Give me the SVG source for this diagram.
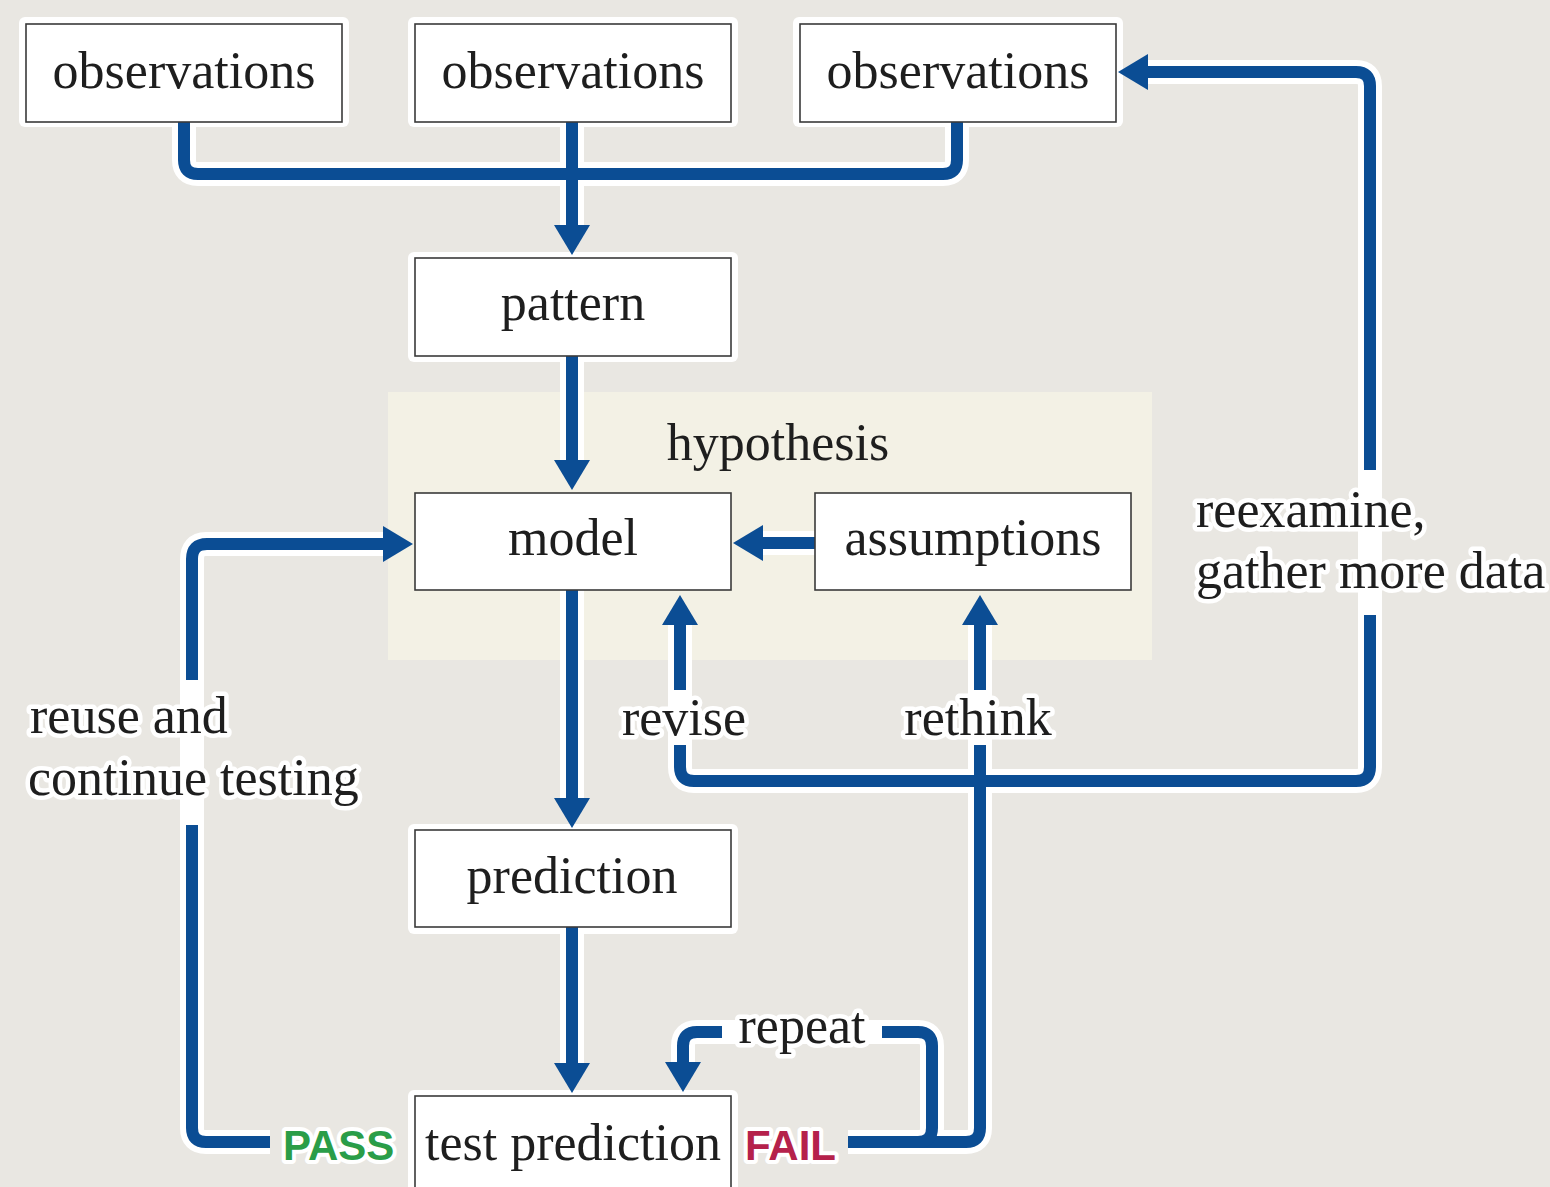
<svg xmlns="http://www.w3.org/2000/svg" width="1550" height="1187" viewBox="0 0 1550 1187">
<defs>
<style>
.box{fill:#fff;stroke:#3a3a3a;stroke-width:1.6}
.halo{fill:#fff;stroke:none}
.t{font-family:"Liberation Serif","Times New Roman",serif;font-size:52px;fill:#1e1e1e;text-anchor:middle}
.lbl{font-family:"Liberation Serif","Times New Roman",serif;font-size:52px;fill:#1e1e1e;paint-order:stroke;stroke:#fff;stroke-width:9;stroke-linejoin:round}
.c{fill:none;stroke:#0b4d94;stroke-width:12;stroke-linejoin:round}
.ch{fill:none;stroke:#fff;stroke-width:24;stroke-linejoin:round}
.pf{font-family:"Liberation Sans",Arial,sans-serif;font-weight:bold;font-size:42px;paint-order:stroke;stroke:#fff;stroke-width:8;stroke-linejoin:round}
</style>
<marker id="ah" markerUnits="userSpaceOnUse" viewBox="0 0 30 36" markerWidth="30" markerHeight="36" refX="10" refY="18" orient="auto">
<path d="M0,0 L30,18 L0,36 z" fill="#0b4d94"/>
</marker>
</defs>
<rect width="1550" height="1187" fill="#e9e7e2"/>
<g id="hypothesis">
<rect x="388" y="392" width="764" height="268" fill="#f3f1e5"/>
<text class="t" x="778" y="460">hypothesis</text>
</g>
<g id="halos">
<path class="ch" d="M184,122 V160 Q184,174 198,174 H943 Q957,174 957,160 V122 M572,122 V235"/>
<path class="ch" d="M572,356 V470 M815,543 H753 M572,590 V808 M572,927 V1073"/>
<path class="ch" d="M270,1142 H206 Q192,1142 192,1128 V560 Q192,544 206,544 H393"/>
<path class="ch" d="M680,615 V767 Q680,781 694,781 H1356 Q1370,781 1370,767 V86 Q1370,72 1356,72 H1138"/>
<path class="ch" d="M848,1142 H966 Q980,1142 980,1128 V615"/>
<path class="ch" d="M918,1142 Q932,1142 932,1128 V1046 Q932,1032 918,1032 H697 Q683,1032 683,1046 V1072"/>
<rect class="halo" x="19" y="17" width="330" height="110" rx="6"/>
<rect class="halo" x="408" y="17" width="330" height="110" rx="6"/>
<rect class="halo" x="793" y="17" width="330" height="110" rx="6"/>
<rect class="halo" x="408" y="252" width="330" height="110" rx="6"/>
<rect class="halo" x="408" y="824" width="330" height="110" rx="6"/>
<rect class="halo" x="408" y="1090" width="330" height="106" rx="6"/>
</g>
<g id="connectors">
<path class="c" d="M184,122 V160 Q184,174 198,174 H943 Q957,174 957,160 V122"/>
<path class="c" d="M572,122 V235" marker-end="url(#ah)"/>
<path class="c" d="M572,356 V470" marker-end="url(#ah)"/>
<path class="c" d="M815,543 H753" marker-end="url(#ah)"/>
<path class="c" d="M572,590 V808" marker-end="url(#ah)"/>
<path class="c" d="M572,927 V1073" marker-end="url(#ah)"/>
<path class="c" d="M270,1142 H206 Q192,1142 192,1128 V825"/>
<path class="c" d="M192,680 V559 Q192,544 207,544 H393" marker-end="url(#ah)"/>
<path class="c" d="M680,745 V767 Q680,781 694,781 H1356 Q1370,781 1370,767 V615"/>
<path class="c" d="M680,690 V615" marker-end="url(#ah)"/>
<path class="c" d="M980,690 V615" marker-end="url(#ah)"/>
<path class="c" d="M1370,470 V86 Q1370,72 1356,72 H1138" marker-end="url(#ah)"/>
<path class="c" d="M848,1142 H966 Q980,1142 980,1128 V745"/>
<path class="c" d="M918,1142 Q932,1142 932,1128 V1046 Q932,1032 918,1032 H882"/>
<path class="c" d="M722,1032 H697 Q683,1032 683,1046 V1072" marker-end="url(#ah)"/>
</g>
<g id="obs1"><rect class="box" x="26" y="24" width="316" height="98"/><text class="t" x="184" y="88">observations</text></g>
<g id="obs2"><rect class="box" x="415" y="24" width="316" height="98"/><text class="t" x="573" y="88">observations</text></g>
<g id="obs3"><rect class="box" x="800" y="24" width="316" height="98"/><text class="t" x="958" y="88">observations</text></g>
<g id="pattern"><rect class="box" x="415" y="258" width="316" height="98"/><text class="t" x="573" y="320">pattern</text></g>
<g id="model"><rect class="box" x="415" y="493" width="316" height="97"/><text class="t" x="573" y="555">model</text></g>
<g id="assumptions"><rect class="box" x="815" y="493" width="316" height="97"/><text class="t" x="973" y="555">assumptions</text></g>
<g id="prediction"><rect class="box" x="415" y="830" width="316" height="97"/><text class="t" x="572" y="893">prediction</text></g>
<g id="test-prediction"><rect class="box" x="415" y="1096" width="316" height="100"/><text class="t" x="573" y="1160">test prediction</text></g>
<g id="labels">
<text class="lbl" x="30" y="733">reuse and</text>
<text class="lbl" x="28" y="795">continue testing</text>
<text class="lbl" x="684" y="735" text-anchor="middle">revise</text>
<text class="lbl" x="978" y="735" text-anchor="middle">rethink</text>
<text class="lbl" x="1196" y="527">reexamine,</text>
<text class="lbl" x="1196" y="588">gather more data</text>
<text class="lbl" x="802" y="1043" text-anchor="middle">repeat</text>
<text class="pf" x="283" y="1160" fill="#2a9d48">PASS</text>
<text class="pf" x="745" y="1160" fill="#b5214b">FAIL</text>
</g>
</svg>
